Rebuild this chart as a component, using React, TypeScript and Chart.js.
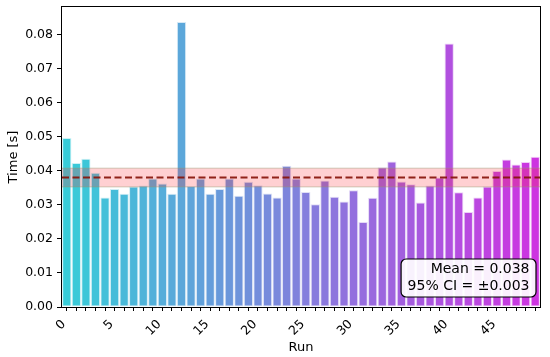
import { useEffect, useRef } from 'react';
import { Chart, registerables } from 'chart.js';

Chart.register(...registerables);

const runs = ['0','1','2','3','4','5','6','7','8','9','10','11','12','13','14','15','16','17','18','19','20','21','22','23','24','25','26','27','28','29','30','31','32','33','34','35','36','37','38','39','40','41','42','43','44','45','46','47','48','49'];

const times = [
  0.0497, 0.0423, 0.0436, 0.0395, 0.0322, 0.0347, 0.0333, 0.0354, 0.0357, 0.0378,
  0.0363, 0.0333, 0.0838, 0.0356, 0.0378, 0.0333, 0.0347, 0.0378, 0.0327, 0.0368,
  0.0358, 0.0334, 0.0322, 0.0415, 0.0378, 0.0338, 0.0302, 0.0372, 0.0324, 0.0310,
  0.0343, 0.0250, 0.0321, 0.0411, 0.0428, 0.0369, 0.0361, 0.0307, 0.0357, 0.0381,
  0.0775, 0.0337, 0.0279, 0.0322, 0.0354, 0.0400, 0.0434, 0.0419, 0.0426, 0.0442,
];

const yTicks = [0, 0.01, 0.02, 0.03, 0.04, 0.05, 0.06, 0.07, 0.08];
const xTickLabels = ['0', '5', '10', '15', '20', '25', '30', '35', '40', '45'];

const n = times.length;
const mean = times.reduce((a, b) => a + b, 0) / n;
const sd = Math.sqrt(times.reduce((a, b) => a + (b - mean) * (b - mean), 0) / (n - 1));
const ciHalf = (1.96 * sd) / Math.sqrt(n);

const startCol = [55, 204, 216];
const endCol = [205, 52, 225];
const barColors = times.map((_, i) => {
  const t = i / (n - 1);
  const c = startCol.map((s, k) => Math.round(s + (endCol[k] - s) * t));
  return `rgb(${c[0]},${c[1]},${c[2]})`;
});
const barEdges = times.map((_, i) => {
  const t = i / (n - 1);
  const c = startCol.map((s, k) => Math.round(s + (endCol[k] - s) * t));
  return `rgba(${c[0]},${c[1]},${c[2]},0.25)`;
});

const FONT = 'DejaVu Sans';

const overlay = {
  id: 'overlay',
  afterDatasetsDraw(chart: any) {
    const { ctx, chartArea: ca, scales } = chart;
    const y = scales.y;
    const yHi = y.getPixelForValue(mean + ciHalf);
    const yLo = y.getPixelForValue(mean - ciHalf);
    const yM = y.getPixelForValue(mean);
    ctx.save();
    // CI band
    ctx.fillStyle = 'rgba(255,40,50,0.22)';
    ctx.fillRect(ca.left, yHi, ca.right - ca.left, yLo - yHi);
    ctx.strokeStyle = 'rgba(150,150,110,0.45)';
    ctx.lineWidth = 1;
    ctx.beginPath();
    ctx.moveTo(ca.left, yHi);
    ctx.lineTo(ca.right, yHi);
    ctx.moveTo(ca.left, yLo);
    ctx.lineTo(ca.right, yLo);
    ctx.stroke();
    // mean line
    ctx.strokeStyle = 'rgba(135,20,10,0.92)';
    ctx.lineWidth = 2;
    ctx.setLineDash([7, 3.5]);
    ctx.beginPath();
    ctx.moveTo(ca.left, yM);
    ctx.lineTo(ca.right, yM);
    ctx.stroke();
    ctx.setLineDash([]);
    // frame
    ctx.strokeStyle = '#000';
    ctx.lineWidth = 1;
    ctx.strokeRect(ca.left - 0.5, ca.top - 0.5, ca.right - ca.left + 1, ca.bottom - ca.top + 1);
    // text box
    const l1 = `Mean = ${mean.toFixed(3)}`;
    const l2 = `95% CI = \u00b1${ciHalf.toFixed(3)}`;
    ctx.font = `14px "${FONT}"`;
    const w = Math.max(ctx.measureText(l1).width, ctx.measureText(l2).width);
    const boxRight = ca.right - 4;
    const boxBottom = ca.bottom - 10;
    const boxH = 38;
    const boxW = w + 13;
    const boxTop = boxBottom - boxH;
    const boxLeft = boxRight - boxW;
    ctx.beginPath();
    (ctx as any).roundRect(boxLeft, boxTop, boxW, boxH, 5);
    ctx.fillStyle = 'rgba(255,255,255,0.92)';
    ctx.fill();
    ctx.lineWidth = 1.2;
    ctx.strokeStyle = '#000';
    ctx.stroke();
    ctx.fillStyle = '#000';
    ctx.textAlign = 'right';
    ctx.textBaseline = 'middle';
    ctx.fillText(l1, boxRight - 6.5, boxTop + 10.5);
    ctx.fillText(l2, boxRight - 6.5, boxTop + 27);
    ctx.restore();
  },
};

export default function App() {
  const ref = useRef<HTMLCanvasElement>(null);
  useEffect(() => {
    if (!ref.current) return;
    const chart = new Chart(ref.current, {
      type: 'bar',
      data: {
        labels: runs,
        datasets: [
          {
            data: times,
            backgroundColor: barColors,
            borderColor: barEdges,
            borderWidth: 1,
            borderSkipped: false,
            barPercentage: 0.97,
            categoryPercentage: 1,
          },
        ],
      },
      options: {
        responsive: false,
        animation: false,
        layout: { padding: { top: 7, right: 10, left: 0, bottom: 0 } },
        plugins: { legend: { display: false }, tooltip: { enabled: false } },
        scales: {
          x: {
            type: 'category',
            offset: true,
            afterFit: (s: any) => { s.height = 50; s.paddingLeft = 0; s.paddingRight = 0; },
            grid: { offset: false, drawOnChartArea: false, drawTicks: true, tickLength: 4, color: '#000' },
            border: { display: false },
            ticks: {
              autoSkip: false,
              maxRotation: 45,
              minRotation: 45,
              padding: 6,
              labelOffset: -3,
              color: '#000',
              font: { family: FONT, size: 12.5 },
              callback: (_v: any, i: number) => (xTickLabels.includes(runs[i]) ? runs[i] : ''),
            },
            title: { display: true, text: 'Run', color: '#000', font: { family: FONT, size: 13 }, padding: { top: 0, bottom: 2 } },
          },
          y: {
            min: 0,
            max: 0.0882,
            afterFit: (s: any) => { s.width = 62; s.paddingTop = 0; s.paddingBottom = 0; },
            afterBuildTicks: (s: any) => { s.ticks = yTicks.map((v) => ({ value: v })); },
            grid: { drawOnChartArea: false, drawTicks: true, tickLength: 5, color: '#000' },
            border: { display: false },
            ticks: {
              padding: 4,
              color: '#000',
              font: { family: FONT, size: 12.5 },
              callback: (v: any) => Number(v).toFixed(2),
            },
            title: { display: true, text: 'Time [s]', color: '#000', font: { family: FONT, size: 13 }, padding: { top: 6, bottom: 0 } },
          },
        },
      },
      plugins: [overlay],
    });
    return () => chart.destroy();
  }, []);
  return (
    <div style={{ position: 'fixed', left: 0, top: 0, width: 550, height: 357, background: '#fff' }}>
      <canvas ref={ref} width={550} height={357} />
    </div>
  );
}
